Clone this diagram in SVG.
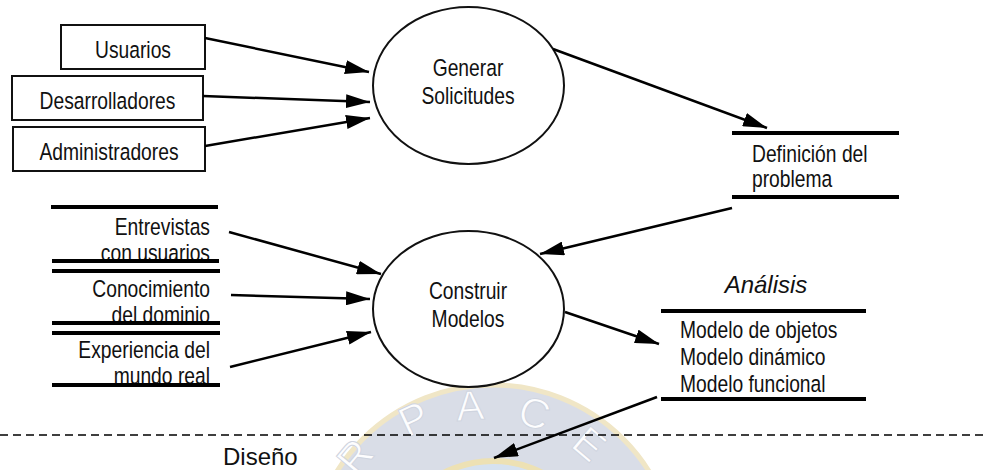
<svg xmlns="http://www.w3.org/2000/svg" width="987" height="470" viewBox="0 0 987 470">
  <style>
    .lbl { font-family: "Liberation Sans", Arial, sans-serif; font-size: 23.5px; fill: #111; }
    .mid { text-anchor: middle; }
    .end { text-anchor: end; }
    .box { fill: #fff; stroke: #111; stroke-width: 2; }
    .proc { fill: #fff; stroke: #111; stroke-width: 2; }
    .store { stroke: #000; stroke-width: 4; }
    .flow { stroke: #000; stroke-width: 2.5; fill: none; marker-end: url(#arrow); }
    .phase { font-family: "Liberation Sans", Arial, sans-serif; font-size: 24px; fill: #111; }
    .seal-txt { font-family: "Liberation Sans", Arial, sans-serif; font-size: 42px; fill: #fdfdfe; stroke: #cfd4df; stroke-width: 1; text-anchor: middle; }
  </style>
  <defs>
    <marker id="arrow" markerUnits="userSpaceOnUse" markerWidth="24" markerHeight="14" refX="24" refY="7" orient="auto">
      <path d="M0,0 L24,7 L0,14 z" fill="#000"/>
    </marker>
  </defs>

  <rect width="987" height="470" fill="#fff"/>

  <!-- faint background seal -->
  <g id="seal">
    <circle cx="493" cy="569" r="184" fill="#d9dde7" stroke="#f0e6c6" stroke-width="5"/>
    <circle cx="493" cy="569" r="108" fill="#d6e2f0" stroke="#ede1b4" stroke-width="6"/>
    <text class="seal-txt" transform="translate(366,466) rotate(-50)">R</text>
    <text class="seal-txt" transform="translate(420,432) rotate(-25)">P</text>
    <text class="seal-txt" transform="translate(471,420) rotate(-4)">A</text>
    <text class="seal-txt" transform="translate(530,427) rotate(18)">C</text>
    <text class="seal-txt" transform="translate(580,455) rotate(40)">E</text>
  </g>

  <!-- external entities -->
  <g id="usuarios">
    <rect class="box" x="61" y="25" width="144" height="44"/>
    <text class="lbl mid" transform="translate(133,58) scale(0.82,1)">Usuarios</text>
  </g>
  <g id="desarrolladores">
    <rect class="box" x="12" y="76" width="191" height="44"/>
    <text class="lbl mid" transform="translate(107.5,109) scale(0.82,1)">Desarrolladores</text>
  </g>
  <g id="administradores">
    <rect class="box" x="13" y="127" width="192" height="44"/>
    <text class="lbl mid" transform="translate(109,160) scale(0.82,1)">Administradores</text>
  </g>

  <!-- processes -->
  <g id="generar">
    <ellipse class="proc" cx="468.5" cy="85.5" rx="95.5" ry="78.5"/>
    <text class="lbl mid" transform="translate(468,76) scale(0.82,1)">Generar</text>
    <text class="lbl mid" transform="translate(468,104) scale(0.82,1)">Solicitudes</text>
  </g>
  <g id="construir">
    <ellipse class="proc" cx="468.5" cy="309" rx="95.5" ry="78"/>
    <text class="lbl mid" transform="translate(468,299) scale(0.82,1)">Construir</text>
    <text class="lbl mid" transform="translate(468,327) scale(0.82,1)">Modelos</text>
  </g>

  <!-- data stores -->
  <g id="definicion">
    <text class="lbl" transform="translate(752,162) scale(0.82,1)">Definición del</text>
    <text class="lbl" transform="translate(752,187) scale(0.82,1)">problema</text>
    <line class="store" x1="732" y1="133" x2="899" y2="133"/>
    <line class="store" x1="732" y1="197" x2="899" y2="197"/>
  </g>
  <g id="entrevistas">
    <text class="lbl end" transform="translate(210,235) scale(0.82,1)">Entrevistas</text>
    <text class="lbl end" transform="translate(210,261) scale(0.82,1)">con usuarios</text>
    <line class="store" x1="51" y1="207" x2="218" y2="207"/>
    <line class="store" x1="52" y1="261" x2="219" y2="261"/>
  </g>
  <g id="conocimiento">
    <text class="lbl end" transform="translate(210,297) scale(0.82,1)">Conocimiento</text>
    <text class="lbl end" transform="translate(210,323) scale(0.82,1)">del dominio</text>
    <line class="store" x1="52" y1="271" x2="220" y2="271"/>
    <line class="store" x1="52" y1="323" x2="220" y2="323"/>
  </g>
  <g id="experiencia">
    <text class="lbl end" transform="translate(210,358) scale(0.82,1)">Experiencia del</text>
    <text class="lbl end" transform="translate(210,384) scale(0.82,1)">mundo real</text>
    <line class="store" x1="52" y1="333" x2="220" y2="333"/>
    <line class="store" x1="52" y1="385" x2="220" y2="385"/>
  </g>
  <g id="analisis">
    <text class="phase mid" x="766" y="293" font-style="italic">Análisis</text>
    <text class="lbl" transform="translate(680,338) scale(0.82,1)">Modelo de objetos</text>
    <text class="lbl" transform="translate(680,365) scale(0.82,1)">Modelo dinámico</text>
    <text class="lbl" transform="translate(680,392) scale(0.82,1)">Modelo funcional</text>
    <line class="store" x1="661" y1="311" x2="866" y2="311"/>
    <line class="store" x1="661" y1="399" x2="866" y2="399"/>
  </g>

  <!-- phase boundary -->
  <g id="diseno">
    <line x1="0" y1="435" x2="987" y2="435" stroke="#000" stroke-width="1.5" stroke-dasharray="8 5"/>
    <text class="phase" x="223" y="465" font-size="23">Diseño</text>
  </g>

  <!-- data flows -->
  <g id="connectors">
    <line class="flow" x1="205" y1="38" x2="369" y2="72"/>
    <line class="flow" x1="203" y1="96" x2="370" y2="102"/>
    <line class="flow" x1="205" y1="146" x2="370" y2="118"/>
    <line class="flow" x1="553" y1="49" x2="767" y2="128"/>
    <line class="flow" x1="732" y1="208" x2="540" y2="254"/>
    <line class="flow" x1="229" y1="232" x2="381" y2="274"/>
    <line class="flow" x1="231" y1="295" x2="370" y2="299"/>
    <line class="flow" x1="230" y1="367" x2="371" y2="332"/>
    <line class="flow" x1="565" y1="312" x2="659" y2="344"/>
    <line class="flow" x1="657" y1="397" x2="494" y2="458"/>
  </g>
</svg>
